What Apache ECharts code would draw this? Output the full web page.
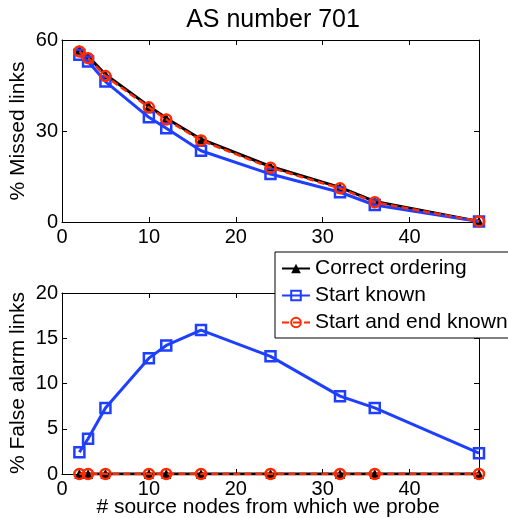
<!DOCTYPE html>
<html>
<head>
<meta charset="utf-8">
<script src="https://cdn.jsdelivr.net/npm/echarts@6/dist/echarts.min.js"></script>
<style>html,body{margin:0;padding:0;background:#fff;}#c{width:508px;height:518px;}</style>
</head>
<body>
<div id="c"></div>
<script>
var xs = [2, 3, 5, 10, 12, 16, 24, 32, 36, 48];
var missedCorrect = [56.8, 54.6, 48.6, 38.2, 34.2, 27.3, 18.3, 11.4, 6.8, 0.2];
var missedStart = [55.1, 52.9, 46.3, 34.5, 30.9, 23.5, 15.8, 9.8, 5.6, 0.2];
var missedStartEnd = [56.2, 54.0, 48.1, 37.8, 33.8, 26.9, 17.9, 11.1, 6.5, 0.2];
var falseCorrect = [0, 0, 0, 0, 0, 0, 0, 0, 0, 0];
var falseStart = [2.4, 3.9, 7.3, 12.8, 14.2, 15.9, 13.0, 8.6, 7.3, 2.3];
var falseStartEnd = [0, 0, 0, 0, 0, 0, 0, 0, 0, 0];
var seriesNames = ['Correct ordering', 'Start known', 'Start and end known'];
var titleText = 'AS number 701';
var xLabel = '# source nodes from which we probe';
var yLabelTop = '% Missed links';
var yLabelBottom = '% False alarm links';

function pairs(v) { return xs.map(function (x, i) { return [x, v[i]]; }); }

var FONT = 'Liberation Sans';
var BLUE = '#1f3fff', RED = '#ff2a00', BLACK = '#000';

function xAx(grid, pos, labels) {
  return {
    type: 'value', gridIndex: grid, position: pos, min: 0, max: 48, interval: 10,
    axisLine: { show: true, onZero: false, lineStyle: { color: '#000', width: 1 } },
    axisTick: { show: true, inside: true, length: 5, lineStyle: { color: '#000' } },
    axisLabel: { show: labels, color: '#000', fontSize: 20, fontFamily: FONT, margin: 5, showMaxLabel: false },
    splitLine: { show: false }
  };
}
function yAx(grid, pos, max, interval, labels) {
  return {
    type: 'value', gridIndex: grid, position: pos, min: 0, max: max, interval: interval,
    axisLine: { show: true, onZero: false, lineStyle: { color: '#000', width: 1 } },
    axisTick: { show: true, inside: true, length: 5, lineStyle: { color: '#000' } },
    axisLabel: { show: labels, color: '#000', fontSize: 20, fontFamily: FONT, margin: 4 },
    splitLine: { show: false }
  };
}

function mk(name, data, xi, yi, kind) {
  var s = { name: name, type: 'line', data: data, xAxisIndex: xi, yAxisIndex: yi, animation: false };
  if (kind === 0) {
    s.symbol = 'triangle'; s.symbolSize = 10;
    s.lineStyle = { color: BLACK, width: 3 };
    s.itemStyle = { color: BLACK };
    s.z = 2;
  } else if (kind === 1) {
    s.symbol = 'rect'; s.symbolSize = 10;
    s.lineStyle = { color: BLUE, width: 3 };
    s.itemStyle = { color: 'rgba(0,0,0,0)', borderColor: BLUE, borderWidth: 2.5 };
    s.z = 3;
  } else {
    s.symbol = 'circle'; s.symbolSize = 10;
    s.lineStyle = { color: RED, width: 2.5, type: [7, 4] };
    s.itemStyle = { color: 'rgba(0,0,0,0)', borderColor: RED, borderWidth: 2.5 };
    s.z = 4;
  }
  return s;
}

var chart = echarts.init(document.getElementById('c'), null, { renderer: 'canvas' });
chart.setOption({
  backgroundColor: '#fff',
  animation: false,
  title: { text: titleText, left: 268, top: 3, textAlign: 'center',
    textStyle: { fontFamily: FONT, fontSize: 25, fontWeight: 'normal', color: '#000' } },
  grid: [
    { left: 62, right: 29, top: 40, height: 182 },
    { left: 62, right: 29, top: 293, height: 181 }
  ],
  xAxis: [xAx(0, 'bottom', true), xAx(0, 'top', false), xAx(1, 'bottom', true), xAx(1, 'top', false)],
  yAxis: [yAx(0, 'left', 60, 30, true), yAx(0, 'right', 60, 30, false), yAx(1, 'left', 20, 5, true), yAx(1, 'right', 20, 5, false)],
  legend: {
    orient: 'vertical', left: 275, top: 252,
    backgroundColor: '#fff', borderColor: '#000', borderWidth: 1,
    padding: [6, 4, 5, 6], itemGap: 6, itemWidth: 28, itemHeight: 12,
    textStyle: { fontFamily: FONT, fontSize: 21, color: '#000' },
    data: seriesNames
  },
  graphic: [
    { type: 'text', rotation: Math.PI / 2, x: 8, y: 131, style: { text: yLabelTop, font: '21px "Liberation Sans"', fill: '#000', align: 'center', verticalAlign: 'top' } },
    { type: 'text', rotation: Math.PI / 2, x: 8, y: 383, style: { text: yLabelBottom, font: '21px "Liberation Sans"', fill: '#000', align: 'center', verticalAlign: 'top' } },
    { type: 'text', x: 268, y: 497, style: { text: xLabel, font: '21px "Liberation Sans"', fill: '#000', align: 'center', verticalAlign: 'top' } }
  ],
  series: [
    mk(seriesNames[0], pairs(missedCorrect), 0, 0, 0),
    mk(seriesNames[1], pairs(missedStart), 0, 0, 1),
    mk(seriesNames[2], pairs(missedStartEnd), 0, 0, 2),
    mk(seriesNames[0], pairs(falseCorrect), 2, 2, 0),
    mk(seriesNames[1], pairs(falseStart), 2, 2, 1),
    mk(seriesNames[2], pairs(falseStartEnd), 2, 2, 2)
  ]
});
</script>
</body>
</html>
